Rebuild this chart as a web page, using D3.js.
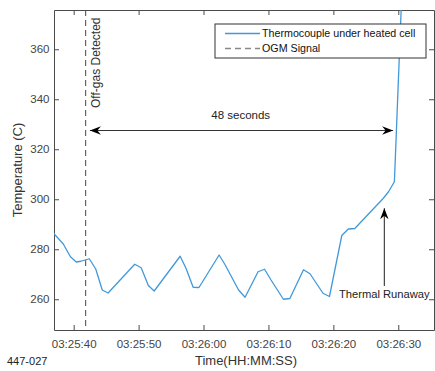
<!DOCTYPE html>
<html>
<head>
<meta charset="utf-8">
<script src="https://cdn.jsdelivr.net/npm/d3@7"></script>
<style>
  body { margin: 0; background: #fff; }
  svg text { font-family: "Liberation Sans", Arial, sans-serif; }
</style>
</head>
<body>
<svg id="chart"></svg>
<script>

// time of each reading, seconds after 03:25:00
var secondsAfter = [36.9, 38.4, 39.5, 40.4, 41.1, 42.4, 43.4, 44.4, 45.3, 49.4,
                    50.4, 51.5, 52.4, 56.4, 57.3, 58.4, 59.3, 62.4, 63.3, 65.4,
                    66.4, 68.4, 69.4, 70.4, 72.3, 73.3, 75.4, 76.4, 78.4, 79.4,
                    81.3, 82.3, 83.3, 87.7, 88.5, 89.4, 90.9];
var tempC = [286.4, 282.1, 277.0, 274.9, 275.2, 276.2, 272.1, 263.7, 262.5, 274.0,
             272.6, 265.5, 263.3, 277.2, 272.4, 264.8, 264.7, 277.7, 273.9, 263.7,
             260.8, 271.0, 272.0, 267.7, 260.0, 260.3, 271.8, 270.2, 262.4, 261.1,
             285.5, 288.1, 288.3, 300.4, 303.0, 307.0, 406.0];

var xTickLabels = ["03:25:40", "03:25:50", "03:26:00", "03:26:10", "03:26:20", "03:26:30"];
var yTicks = [260, 280, 300, 320, 340, 360];
var seriesNames = ["Thermocouple under heated cell", "OGM Signal"];

var offgasSecond = 41.85;   // OGM signal line
var gapStart = 42.5, gapEnd = 89.2, gapTemp = 327.5;   // "48 seconds" arrow
var runawaySecond = 87.85, runawayFrom = 265.3, runawayTo = 296.4;

var timeOnly = d3.timeParse("%H:%M:%S");
var baseTime = timeOnly("03:25:00");
function atSecond(s) { return new Date(baseTime.getTime() + s * 1000); }

function drawChart() {
    var svgWidth = 435;
    var svgHeight = 371;
    var margin = {top: 10, right: 1, bottom: 41, left: 54};
    var width = svgWidth - margin.left - margin.right;
    var height = svgHeight - margin.top - margin.bottom;
    var axisColor = "#4a4a4a";

    var svg = d3.select("#chart")
                .attr("width", svgWidth)
                .attr("height", svgHeight);

    var defs = svg.append("defs");
    defs.append("clipPath").attr("id", "plotClip")
        .append("rect").attr("width", width).attr("height", height);
    defs.append("marker")
        .attr("id", "head")
        .attr("markerUnits", "userSpaceOnUse")
        .attr("viewBox", "-11 -5 12 10")
        .attr("markerWidth", 12).attr("markerHeight", 10)
        .attr("refX", 0).attr("refY", 0)
        .attr("orient", "auto-start-reverse")
        .append("path")
        .attr("d", "M0,0L-11,-4.2L-7.5,0L-11,4.2Z")
        .attr("fill", "#000");

    var g = svg.append("g")
               .attr("transform", "translate(" + margin.left + "," + margin.top + ")");

    var x = d3.scaleTime()
              .domain([atSecond(36.97), atSecond(95.5)])
              .range([0, width]);
    var y = d3.scaleLinear()
              .domain([247.7, 375.7])
              .range([height, 0]);

    var xTicks = xTickLabels.map(timeOnly);
    var fmt = d3.timeFormat("%H:%M:%S");

    function styleAxis(sel) {
        sel.selectAll("path, line").attr("stroke", axisColor);
        sel.selectAll("text")
           .attr("fill", "#444")
           .attr("font-size", "11.5px")
           .attr("font-family", "Liberation Sans, Arial, sans-serif");
    }

    g.append("g")
        .attr("transform", "translate(0," + height + ")")
        .call(d3.axisBottom(x).tickValues(xTicks).tickFormat(fmt)
              .tickSizeInner(-5).tickSizeOuter(0).tickPadding(10))
        .call(styleAxis);
    g.append("g")
        .call(d3.axisTop(x).tickValues(xTicks).tickFormat("")
              .tickSizeInner(-5).tickSizeOuter(0))
        .call(styleAxis);
    g.append("g")
        .call(d3.axisLeft(y).tickValues(yTicks)
              .tickSizeInner(-5).tickSizeOuter(0).tickPadding(4.5))
        .call(styleAxis);
    g.append("g")
        .attr("transform", "translate(" + width + ",0)")
        .call(d3.axisRight(y).tickValues(yTicks).tickFormat("")
              .tickSizeInner(-5).tickSizeOuter(0))
        .call(styleAxis);

    // axis titles
    svg.append("text")
        .attr("x", margin.left + width / 2 + 2)
        .attr("y", 365)
        .attr("text-anchor", "middle")
        .attr("font-size", "13px")
        .attr("fill", "#333")
        .text("Time(HH:MM:SS)");
    svg.append("text")
        .attr("transform", "translate(22," + (margin.top + height / 2) + ") rotate(-90)")
        .attr("text-anchor", "middle")
        .attr("font-size", "13px")
        .attr("fill", "#333")
        .text("Temperature (C)");
    svg.append("text")
        .attr("x", 7)
        .attr("y", 365)
        .attr("font-size", "11px")
        .attr("fill", "#222")
        .text("447-027");

    // OGM signal
    g.append("line")
        .attr("x1", x(atSecond(offgasSecond))).attr("x2", x(atSecond(offgasSecond)))
        .attr("y1", 0).attr("y2", height)
        .attr("stroke", "#444")
        .attr("stroke-width", 1)
        .attr("stroke-dasharray", "6,4");
    g.append("text")
        .attr("transform", "translate(" + (x(atSecond(offgasSecond)) + 14.5) + ",98) rotate(-90)")
        .attr("font-size", "12px")
        .attr("fill", "#333")
        .text("Off-gas Detected");

    // thermocouple
    var data = secondsAfter.map(function(s, i) { return {time: atSecond(s), temp: tempC[i]}; });
    var line = d3.line()
                 .x(function(d) { return x(d.time); })
                 .y(function(d) { return y(d.temp); });
    g.append("path")
        .datum(data)
        .attr("clip-path", "url(#plotClip)")
        .attr("fill", "none")
        .attr("stroke", "#4299da")
        .attr("stroke-width", 1.3)
        .attr("stroke-linejoin", "round")
        .attr("d", line);

    // annotations
    g.append("line")
        .attr("x1", x(atSecond(gapStart))).attr("x2", x(atSecond(gapEnd)))
        .attr("y1", y(gapTemp)).attr("y2", y(gapTemp))
        .attr("stroke", "#333").attr("stroke-width", 1.1)
        .attr("marker-start", "url(#head)")
        .attr("marker-end", "url(#head)");
    g.append("text")
        .attr("x", x(atSecond(61.2)))
        .attr("y", y(gapTemp) - 12)
        .attr("font-size", "11.5px")
        .attr("fill", "#222")
        .text("48 seconds");

    g.append("line")
        .attr("x1", x(atSecond(runawaySecond))).attr("x2", x(atSecond(runawaySecond)))
        .attr("y1", y(runawayFrom)).attr("y2", y(runawayTo))
        .attr("stroke", "#333").attr("stroke-width", 1.1)
        .attr("marker-end", "url(#head)");
    g.append("text")
        .attr("x", x(atSecond(80.85)))
        .attr("y", y(260.5))
        .attr("font-size", "11.2px")
        .attr("fill", "#222")
        .text("Thermal Runaway");

    // legend
    var legend = g.append("g")
                  .attr("transform", "translate(" + (width - 219) + ",14)");
    legend.append("rect")
        .attr("width", 211).attr("height", 34)
        .attr("fill", "#fff")
        .attr("stroke", "#333").attr("stroke-width", 1);
    var rows = legend.selectAll(".row")
        .data(seriesNames)
        .enter().append("g")
        .attr("transform", function(d, i) { return "translate(0," + (9.5 + i * 15) + ")"; });
    rows.append("line")
        .attr("x1", 10).attr("x2", 45)
        .attr("stroke", function(d, i) { return i === 0 ? "#4299da" : "#888"; })
        .attr("stroke-width", 1.3)
        .attr("stroke-dasharray", function(d, i) { return i === 0 ? null : "6,4"; });
    rows.append("text")
        .attr("x", 47)
        .attr("dy", "0.36em")
        .attr("font-size", "10.7px")
        .attr("fill", "#111")
        .text(function(d) { return d; });
}

drawChart();
</script>
</body>
</html>
